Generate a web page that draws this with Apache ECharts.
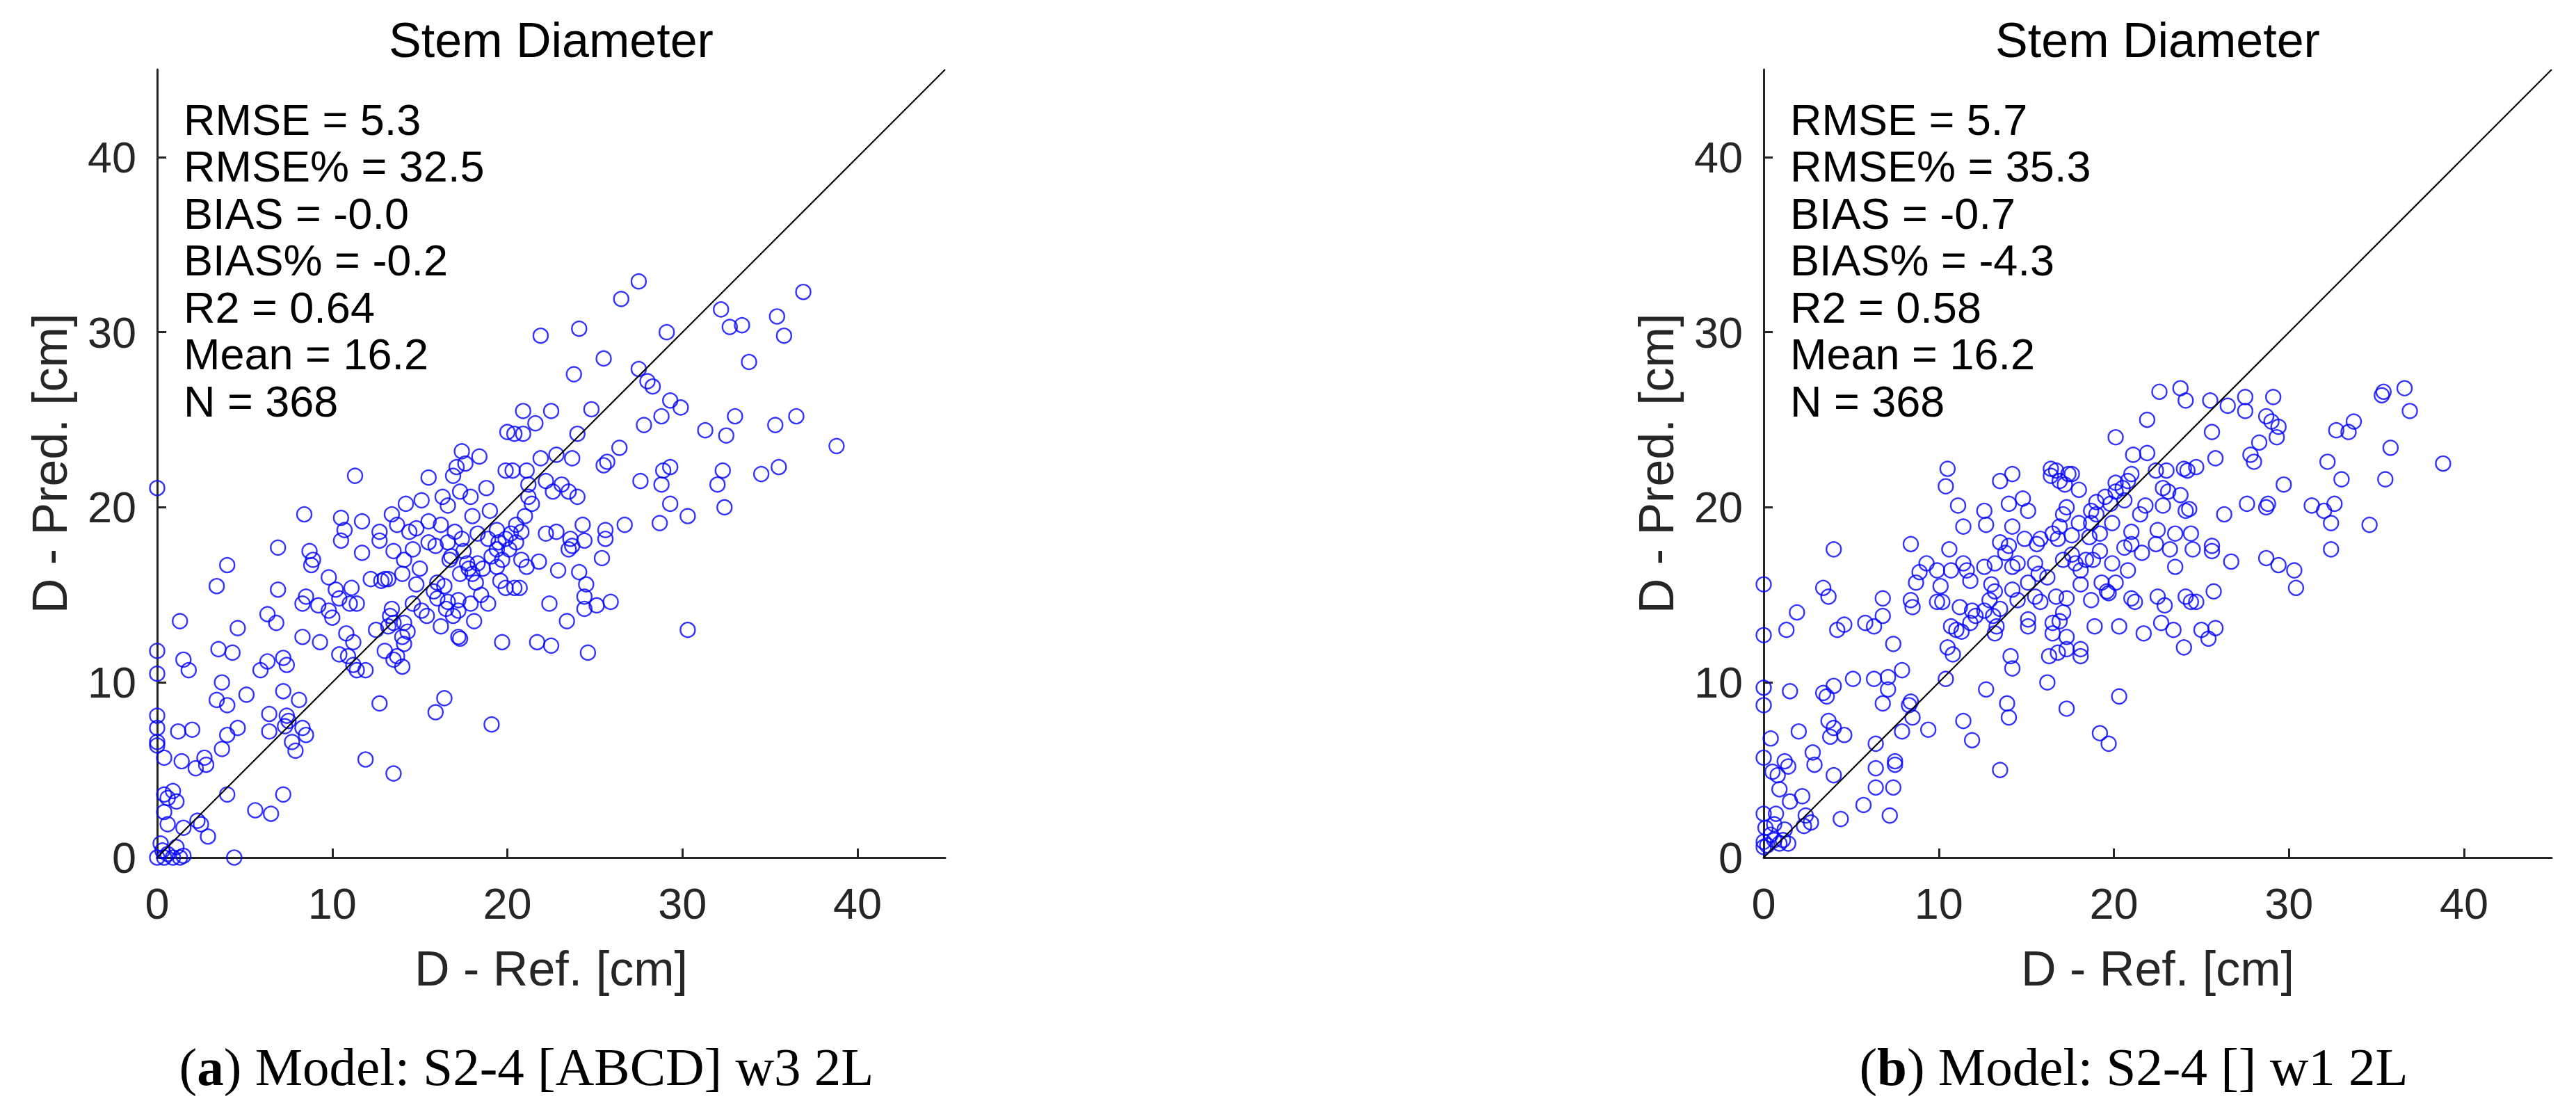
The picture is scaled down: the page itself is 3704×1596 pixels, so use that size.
<!DOCTYPE html>
<html>
<head>
<meta charset="utf-8">
<title>Stem Diameter</title>
<script src="https://cdn.jsdelivr.net/npm/echarts@6/dist/echarts.min.js"></script>
<style>
  html, body { margin: 0; padding: 0; background: #fff; }
  #chart { width: 3704px; height: 1596px; }
</style>
</head>
<body>
<div id="chart"></div>
<script>
// axis setup (both panels share it)
const AXIS_MAX = 45;
const tickValues = [0, 10, 20, 30, 40];
const identityLine = [[0, 0], [45, 45]];

// panel (a): [D ref, D pred]
const scatterA = [
  [27.5,32.9],[36.9,32.3],[26.5,31.9],[32.2,31.3],[35.4,30.9],[32.7,30.3],[33.4,30.4],[35.8,29.8],[21.9,29.8],[24.1,30.2],
  [29.1,30.0],[25.5,28.5],[23.8,27.6],[33.8,28.3],[27.5,27.9],[28.0,27.2],[28.3,26.9],[29.3,26.1],[29.9,25.7],[24.8,25.6],
  [20.9,25.5],[22.5,25.5],[33.0,25.2],[36.5,25.2],[28.8,25.2],[27.8,24.7],[35.3,24.7],[31.3,24.4],[21.6,24.8],[20.0,24.3],
  [20.4,24.2],[20.9,24.2],[24.0,24.2],[32.5,24.1],[38.8,23.5],[26.4,23.4],[17.4,23.2],[18.4,22.9],[21.9,22.8],[22.8,23.0],
  [25.7,22.6],[25.5,22.4],[23.7,22.8],[32.3,22.1],[29.3,22.3],[28.9,22.1],[35.5,22.3],[34.5,21.9],[11.3,21.8],[15.5,21.7],
  [17.6,22.5],[16.9,21.8],[17.1,22.3],[19.9,22.1],[20.3,22.1],[21.1,22.1],[27.6,21.5],[32.0,21.3],[28.8,21.3],[0.0,21.1],
  [22.2,21.5],[23.1,21.3],[23.5,20.9],[21.2,21.3],[22.6,20.9],[24.0,20.6],[21.2,20.6],[21.4,20.2],[18.8,21.1],[17.3,20.9],
  [16.3,20.6],[15.1,20.4],[14.2,20.2],[13.4,19.6],[8.4,19.6],[10.5,19.4],[11.7,19.2],[29.3,20.2],[30.3,19.5],[32.4,20.0],
  [28.7,19.1],[26.7,19.0],[25.6,18.7],[24.3,19.0],[23.6,18.2],[10.7,18.7],[10.5,18.1],[12.7,18.6],[12.7,18.1],[14.4,18.6],
  [14.8,18.8],[13.7,19.0],[19.4,18.7],[19.9,18.2],[18.9,18.2],[18.3,18.5],[17.4,18.2],[16.6,18.0],[15.9,17.8],[15.5,18.0],
  [22.2,18.5],[22.8,18.6],[20.5,19.0],[20.8,18.6],[20.5,18.0],[20.1,17.6],[25.6,18.2],[24.4,18.1],[6.9,17.7],[8.7,17.5],
  [11.7,17.4],[8.9,17.0],[14.1,17.0],[14.6,17.6],[16.7,17.0],[17.7,16.8],[18.3,16.8],[19.1,17.2],[19.4,17.6],[19.7,17.0],
  [20.8,17.0],[21.8,16.9],[23.5,17.6],[23.7,17.8],[25.4,17.1],[4.0,16.7],[8.8,16.7],[18.0,16.2],[18.6,16.5],[21.1,16.6],
  [22.9,16.4],[24.1,16.3],[9.8,16.0],[12.2,15.9],[12.8,15.8],[13.0,15.9],[13.2,15.9],[14.8,15.6],[16.0,15.7],[16.4,15.5],
  [17.3,16.2],[18.2,15.7],[19.4,16.6],[19.6,15.8],[24.5,15.6],[3.4,15.5],[6.9,15.3],[10.2,15.3],[11.1,15.4],[11.0,14.5],
  [11.4,14.5],[10.4,14.8],[8.5,14.9],[8.3,14.5],[9.2,14.4],[9.8,14.1],[10.0,13.7],[16.0,14.8],[16.6,14.6],[17.2,14.7],
  [17.9,14.5],[16.5,14.2],[17.2,14.1],[18.9,14.5],[19.9,15.4],[20.4,15.4],[20.7,15.4],[24.4,14.9],[24.4,14.2],[25.1,14.4],
  [25.9,14.6],[22.4,14.5],[13.4,14.2],[13.3,13.8],[15.1,14.1],[15.4,13.8],[16.9,13.8],[18.1,13.5],[23.4,13.5],[1.3,13.5],
  [6.3,13.9],[6.8,13.4],[4.6,13.1],[12.5,13.0],[13.2,13.2],[13.5,13.4],[14.1,13.4],[14.3,12.9],[30.3,13.0],[8.3,12.6],
  [9.3,12.3],[10.8,12.8],[11.2,12.3],[14.0,12.6],[14.1,12.2],[17.2,12.6],[17.3,12.5],[19.7,12.3],[21.7,12.3],[22.5,12.1],
  [0.0,11.8],[3.5,11.9],[4.3,11.7],[10.4,11.6],[10.9,11.5],[13.0,11.8],[13.7,11.5],[13.5,11.3],[24.6,11.7],[1.5,11.3],
  [1.8,10.7],[7.2,11.4],[7.4,11.0],[6.3,11.2],[5.9,10.7],[11.2,11.0],[11.4,10.7],[11.9,10.7],[14.0,10.9],[0.0,10.5],
  [3.7,10.0],[7.2,9.5],[5.1,9.3],[3.4,9.0],[4.0,8.7],[8.1,9.0],[12.7,8.8],[16.4,9.1],[15.9,8.3],[0.0,8.1],
  [6.4,8.2],[7.4,8.1],[7.5,7.8],[7.3,7.5],[8.3,7.4],[8.5,7.0],[19.1,7.6],[0.0,7.4],[1.2,7.2],[2.0,7.3],
  [4.6,7.4],[4.0,7.0],[6.4,7.2],[7.7,6.6],[7.9,6.1],[0.0,6.6],[0.0,6.4],[0.4,5.7],[1.4,5.5],[2.7,5.7],
  [2.8,5.3],[2.2,5.1],[3.7,6.2],[11.9,5.6],[13.5,4.8],[0.9,3.8],[0.6,3.4],[0.4,3.6],[1.1,3.2],[4.0,3.6],
  [7.2,3.6],[5.6,2.7],[6.5,2.5],[0.4,2.6],[0.6,1.9],[1.5,1.7],[2.3,2.1],[2.5,1.9],[2.9,1.2],[0.2,0.8],
  [1.1,0.6],[0.0,0.0],[0.4,0.0],[0.6,0.2],[0.9,0.0],[1.3,0.0],[1.5,0.1],[4.4,0.0],[0.3,0.4],
  [15.5,19.2],[16.2,19.0],[17.0,18.6],[18.0,19.5],[19.0,19.8],[16.8,17.2],[17.5,17.5],[15.0,16.5],[14.0,16.2],[13.5,17.5],
  [20.2,18.5],[21.0,19.5],[14.6,14.5],[15.8,15.2],[16.2,13.2],[18.5,15.0],[17.8,16.5],[19.5,18.0],[16.6,20.1],[17.9,20.6]
];

// panel (b): [D ref, D pred]
const scatterB = [
  [23.8,26.8],[22.6,26.6],[35.4,26.6],[35.3,26.4],[36.6,26.8],[29.1,26.3],[24.1,26.1],[25.5,26.1],[27.5,26.3],[26.5,25.8],
  [27.5,25.5],[36.9,25.5],[28.7,25.2],[29.0,24.9],[21.9,25.0],[33.7,24.9],[32.7,24.4],[33.4,24.3],[29.4,24.6],[25.6,24.3],
  [29.3,24.0],[20.1,24.0],[28.3,23.7],[35.8,23.4],[21.1,23.0],[21.9,23.1],[27.8,23.0],[28.0,22.6],[25.8,22.8],[32.2,22.6],
  [38.8,22.5],[24.0,22.2],[24.7,22.3],[24.2,22.1],[22.4,22.1],[23.0,22.1],[21.0,21.9],[20.8,21.5],[16.4,22.2],[16.7,22.1],
  [17.4,21.9],[17.6,21.9],[14.2,21.9],[10.5,22.2],[33.0,21.6],[35.5,21.6],[13.5,21.5],[16.9,21.5],[17.2,21.3],[16.4,21.8],
  [20.1,21.4],[20.5,21.1],[22.8,21.1],[29.7,21.3],[10.4,21.2],[18.0,21.0],[20.1,20.9],[23.1,20.9],[23.8,20.7],[19.5,20.6],
  [19.0,20.3],[19.8,20.2],[20.6,20.4],[14.8,20.5],[14.0,20.2],[15.1,19.8],[11.1,20.1],[12.6,19.8],[21.8,20.1],[22.8,20.1],
  [27.6,20.2],[28.7,20.0],[28.8,20.2],[31.3,20.1],[32.0,19.8],[32.6,20.2],[26.3,19.6],[24.1,19.8],[24.3,19.9],[17.3,20.0],
  [17.1,19.6],[18.7,19.8],[19.0,19.6],[21.5,19.6],[11.4,18.9],[12.7,19.0],[14.2,18.9],[16.9,18.9],[18.0,19.1],[18.7,19.1],
  [19.9,19.1],[32.4,19.1],[34.6,19.0],[22.5,18.7],[24.4,18.5],[23.5,18.5],[16.5,18.5],[16.8,18.2],[17.6,18.4],[18.6,18.3],
  [19.2,18.5],[21.0,18.6],[22.4,17.9],[14.9,18.2],[14.0,17.8],[13.5,18.0],[15.6,17.9],[15.8,18.2],[21.0,17.9],[20.6,17.7],
  [21.6,17.4],[23.2,17.6],[24.5,17.6],[25.6,17.8],[25.6,17.5],[32.4,17.6],[4.0,17.6],[8.4,17.9],[10.6,17.6],[13.8,17.4],
  [19.2,17.5],[17.6,17.3],[18.4,17.0],[17.8,16.8],[17.1,17.0],[9.3,16.8],[11.4,16.8],[11.6,16.4],[8.9,16.3],[9.9,16.4],
  [10.7,16.4],[12.6,16.6],[13.2,16.8],[14.2,16.6],[14.5,16.8],[15.5,16.8],[20.8,16.4],[26.7,16.9],[28.7,17.1],[29.4,16.7],
  [30.3,16.4],[23.5,16.6],[19.9,16.8],[18.8,17.0],[18.1,16.4],[15.7,16.2],[15.1,15.7],[16.2,16.0],[11.8,15.8],[8.7,15.7],
  [10.1,15.5],[13.0,15.6],[13.2,15.2],[14.2,15.3],[18.1,15.6],[19.3,15.7],[19.6,15.2],[20.1,15.7],[30.4,15.4],[0.0,15.6],
  [3.4,15.4],[3.7,14.9],[25.7,15.2],[22.5,14.9],[24.1,14.9],[24.4,14.6],[24.7,14.6],[21.0,14.8],[21.2,14.6],[19.7,15.1],
  [15.5,14.9],[15.8,14.6],[16.7,14.9],[17.3,14.8],[18.7,14.7],[6.8,14.8],[8.4,14.7],[9.9,14.6],[10.2,14.6],[8.5,14.3],
  [12.9,14.7],[13.5,14.2],[14.5,14.7],[11.2,14.3],[11.9,14.1],[12.1,13.8],[12.6,14.1],[1.9,14.0],[22.9,14.4],[6.8,13.8],
  [5.8,13.4],[6.3,13.2],[13.1,13.8],[13.3,13.2],[15.1,13.6],[15.1,13.2],[16.5,13.4],[17.1,14.0],[16.9,13.5],[22.7,13.4],
  [1.3,13.0],[4.2,13.0],[4.6,13.3],[10.7,13.2],[11.0,13.0],[11.3,12.9],[11.8,13.4],[13.2,12.8],[16.5,12.8],[17.3,12.6],
  [20.3,13.2],[21.7,12.8],[23.4,13.0],[25.0,13.0],[25.4,12.5],[25.8,13.1],[18.9,13.2],[0.0,12.7],[7.4,12.2],[17.3,11.9],
  [18.1,11.9],[24.0,12.0],[10.5,12.0],[10.8,11.6],[16.3,11.5],[16.8,11.7],[18.1,11.5],[14.1,11.5],[14.2,10.8],[7.9,10.7],
  [7.1,10.3],[6.3,10.2],[5.1,10.2],[10.4,10.2],[16.2,10.0],[0.0,9.7],[4.0,9.8],[1.5,9.5],[3.4,9.4],[3.6,9.2],
  [7.1,9.6],[12.7,9.6],[20.3,9.2],[0.0,8.7],[6.8,8.8],[8.3,8.7],[8.4,8.9],[13.9,8.8],[17.3,8.5],[14.0,8.0],
  [8.5,8.0],[3.7,7.8],[4.0,7.4],[4.6,7.0],[3.8,6.9],[7.9,7.2],[9.4,7.3],[2.0,7.2],[11.4,7.8],[11.9,6.7],
  [19.2,7.1],[19.7,6.5],[0.4,6.8],[6.4,6.5],[2.8,6.0],[2.9,5.3],[0.0,5.7],[1.2,5.5],[1.4,5.2],[0.5,4.9],
  [0.8,4.7],[7.5,5.5],[7.5,5.3],[6.4,5.1],[13.5,5.0],[4.0,4.7],[0.9,3.9],[6.4,4.0],[7.4,4.0],[2.2,3.5],
  [1.5,3.2],[5.7,3.0],[0.0,2.5],[0.7,2.5],[2.4,2.4],[4.4,2.2],[7.2,2.4],[2.7,2.0],[2.3,1.8],[0.1,1.7],
  [0.6,1.9],[1.2,1.6],[0.4,1.3],[0.0,0.9],[0.6,1.0],[0.9,0.8],[1.4,0.8],[0.0,0.6],[0.2,0.7],[1.1,1.0]
];

const statsA = ['RMSE = 5.3', 'RMSE% = 32.5', 'BIAS = -0.0', 'BIAS% = -0.2', 'R2 = 0.64', 'Mean = 16.2', 'N = 368'];
const statsB = ['RMSE = 5.7', 'RMSE% = 35.3', 'BIAS = -0.7', 'BIAS% = -4.3', 'R2 = 0.58', 'Mean = 16.2', 'N = 368'];

const SANS = "'Liberation Sans', Arial, Helvetica, sans-serif";
const SERIF = "'Liberation Serif', 'Times New Roman', serif";
const AXIS_COLOR = '#262626';

// panel positions
const panels = [
  { left: 226, captionX: 757, label: 'a', model: 'Model: S2-4 [ABCD] w3 2L', stats: statsA, data: scatterA },
  { left: 2536, captionX: 3068, label: 'b', model: 'Model: S2-4 [] w1 2L', stats: statsB, data: scatterB }
];
const PLOT_TOP = 100;
const PLOT_SIZE = 1133;

function makeAxis(gridIndex, isX) {
  return {
    type: 'value',
    gridIndex: gridIndex,
    min: 0,
    max: AXIS_MAX,
    interval: 10,
    axisLine: { show: true, onZero: false, lineStyle: { color: AXIS_COLOR, width: 3 } },
    axisTick: {
      show: true, inside: true, length: 13, customValues: tickValues,
      lineStyle: { color: AXIS_COLOR, width: 3 }
    },
    axisLabel: {
      customValues: tickValues,
      fontSize: 63, color: AXIS_COLOR, fontFamily: SANS,
      margin: isX ? 34 : 30
    },
    splitLine: { show: false }
  };
}

const chart = echarts.init(document.getElementById('chart'), null, { renderer: 'svg' });

const grids = [], xAxes = [], yAxes = [], series = [], graphics = [];

panels.forEach(function (p, i) {
  grids.push({ left: p.left, top: PLOT_TOP, width: PLOT_SIZE, height: PLOT_SIZE, containLabel: false });
  xAxes.push(makeAxis(i, true));
  yAxes.push(makeAxis(i, false));

  series.push({
    type: 'scatter',
    xAxisIndex: i, yAxisIndex: i,
    data: p.data,
    symbol: 'circle',
    symbolSize: 21,
    clip: false,
    silent: true,
    itemStyle: { color: 'rgba(0,0,0,0)', borderColor: '#0000ff', borderWidth: 2.4 },
    z: 2
  });
  series.push({
    type: 'line',
    xAxisIndex: i, yAxisIndex: i,
    data: identityLine,
    showSymbol: false,
    symbol: 'none',
    silent: true,
    lineStyle: { color: '#000', width: 2.2 },
    z: 3
  });

  const cx = p.left + PLOT_SIZE / 2;
  // title
  graphics.push({
    type: 'text', x: cx, y: 58,
    style: { text: 'Stem Diameter', fill: '#000', font: '70px ' + SANS, align: 'center', verticalAlign: 'middle' }
  });
  // stats block
  graphics.push({
    type: 'text', x: p.left + 38, y: 172 - 34,
    style: {
      text: p.stats.join('\n'), fill: '#000', fontSize: 63, fontFamily: SANS,
      lineHeight: 67.5, align: 'left', verticalAlign: 'top'
    },
    z: 10
  });
  // axis names
  graphics.push({
    type: 'text', x: cx, y: 1393,
    style: { text: 'D - Ref. [cm]', fill: AXIS_COLOR, font: '70px ' + SANS, align: 'center', verticalAlign: 'middle' }
  });
  graphics.push({
    type: 'text', x: p.left - 154, y: PLOT_TOP + PLOT_SIZE / 2, rotation: Math.PI / 2,
    style: { text: 'D - Pred. [cm]', fill: AXIS_COLOR, font: '70px ' + SANS, align: 'center', verticalAlign: 'middle' }
  });
  // sub-caption
  graphics.push({
    type: 'text', x: p.captionX, y: 1534,
    style: {
      text: '({b|' + p.label + '}) ' + p.model,
      fill: '#000', fontSize: 77, fontFamily: SERIF,
      align: 'center', verticalAlign: 'middle',
      rich: { b: { fontSize: 77, fontFamily: SERIF, fontWeight: 'bold', fill: '#000' } }
    }
  });
});

chart.setOption({
  animation: false,
  backgroundColor: '#ffffff',
  grid: grids,
  xAxis: xAxes,
  yAxis: yAxes,
  series: series,
  graphic: graphics
});
</script>
</body>
</html>
